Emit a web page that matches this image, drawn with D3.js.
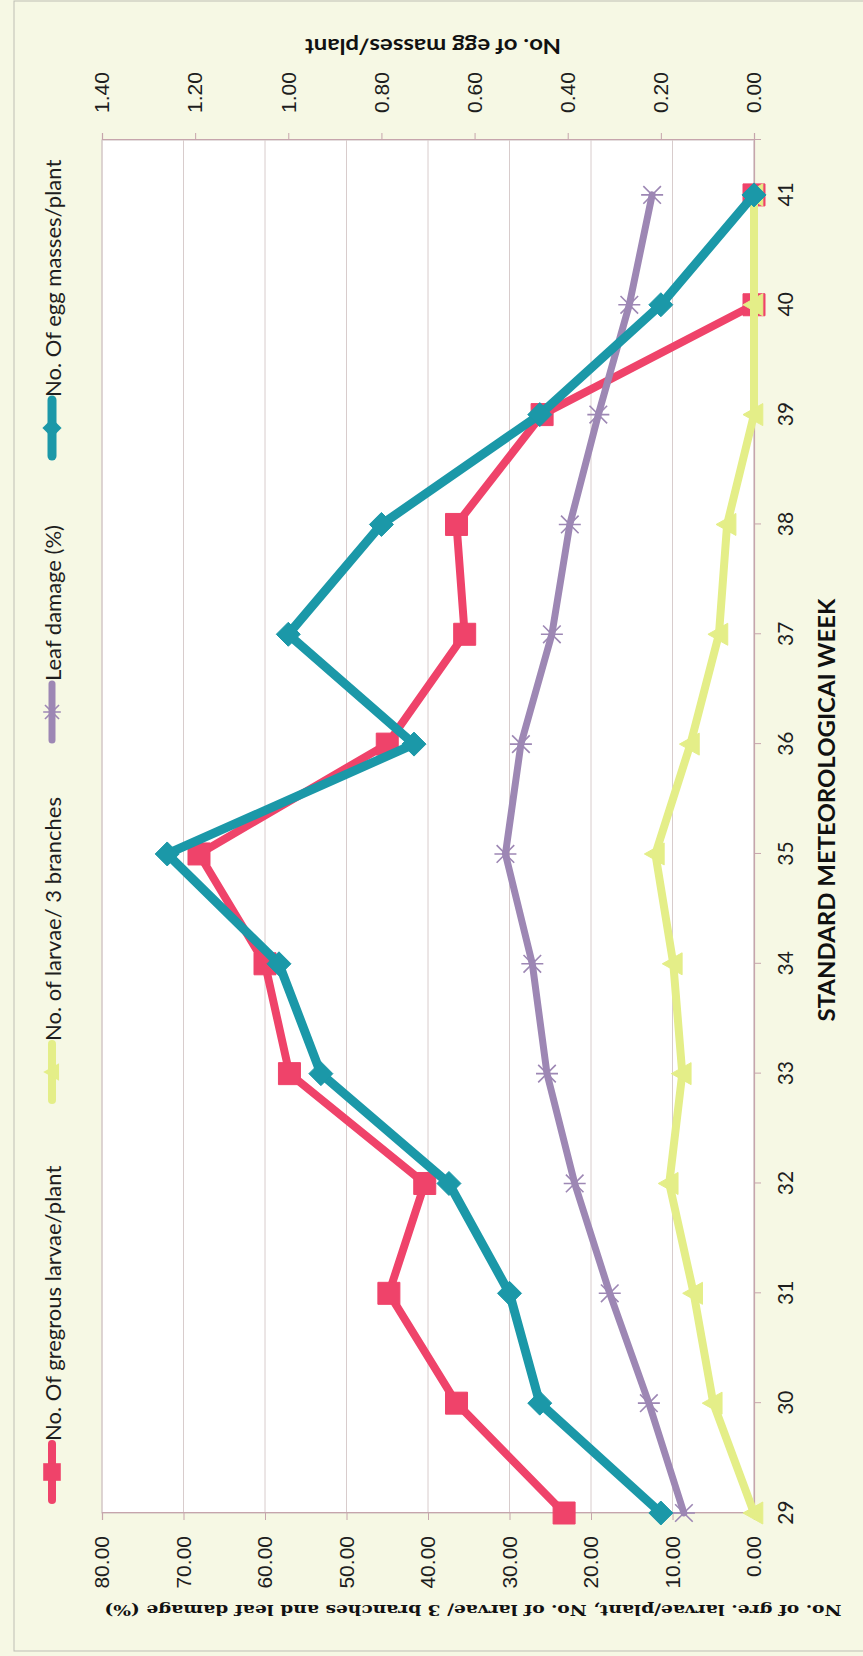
<!DOCTYPE html>
<html>
<head>
<meta charset="utf-8">
<script src="https://cdn.jsdelivr.net/npm/d3@7"></script>
<style>
  html, body { margin: 0; padding: 0; background: #f6f8e4; }
  svg { display: block; }
</style>
</head>
<body>
<svg id="chart" width="863" height="1656"></svg>
<script>
// Standard meteorological weeks
const weeks = [29, 30, 31, 32, 33, 34, 35, 36, 37, 38, 39, 40, 41];
// Primary axis series
const gregariousLarvae = [23.3, 36.5, 44.8, 40.4, 57.0, 60.0, 68.1, 45.0, 35.5, 36.5, 26.0, 0, 0];
const larvaePer3Branches = [0, 5.0, 7.4, 10.4, 8.8, 9.9, 12.1, 7.8, 4.3, 3.3, 0, 0, 0];
const leafDamage = [8.6, 12.9, 17.7, 22.0, 25.4, 27.2, 30.5, 28.6, 24.8, 22.6, 19.1, 15.3, 12.5];
// Secondary axis series
const eggMasses = [0.20, 0.46, 0.525, 0.655, 0.93, 1.02, 1.26, 0.73, 1.00, 0.80, 0.46, 0.20, 0];

const leftTicks = [0, 10, 20, 30, 40, 50, 60, 70, 80];
const rightTicks = [0, 0.2, 0.4, 0.6, 0.8, 1.0, 1.2, 1.4];

const W = 863, H = 1656;
const svg = d3.select("#chart");

svg.append("rect").attr("x", 0).attr("y", 0).attr("width", W).attr("height", H)
  .attr("fill", "#f6f8e4");

// The chart is laid out landscape and turned a quarter turn counter-clockwise.
// Inside g: u runs along the weeks (page bottom -> top), v runs page left -> right.
const g = svg.append("g").attr("transform", `translate(0,${H}) rotate(-90)`);

// chart-area border
g.append("rect").attr("x", 5).attr("y", 14).attr("width", 1650).attr("height", 900)
  .attr("fill", "none").attr("stroke", "#bdbdb4").attr("stroke-width", 1);

const plot = { u0: 143, u1: 1516, v0: 102, v1: 754 };

const x = d3.scaleLinear().domain([29, 41.5]).range([plot.u0, plot.u1]);
const yL = d3.scaleLinear().domain([0, 80]).range([plot.v1, plot.v0]);
const yR = d3.scaleLinear().domain([0, 1.4]).range([plot.v1, plot.v0]);

// plot area
g.append("rect").attr("x", plot.u0).attr("y", plot.v0)
  .attr("width", plot.u1 - plot.u0).attr("height", plot.v1 - plot.v0)
  .attr("fill", "#ffffff").attr("stroke", "#c9bcbc").attr("stroke-width", 1);

// gridlines
g.append("g").selectAll("line").data(leftTicks).join("line")
  .attr("x1", plot.u0).attr("x2", plot.u1)
  .attr("y1", d => yL(d)).attr("y2", d => yL(d))
  .attr("stroke", "#d8cccc").attr("stroke-width", 1);

const fmt = d3.format(".2f");

// primary value axis
const axL = g.append("g").attr("transform", `translate(${plot.u0},0)`)
  .call(d3.axisLeft(yL).tickValues(leftTicks).tickFormat(fmt).tickSize(7).tickPadding(16));
// secondary value axis
const axR = g.append("g").attr("transform", `translate(${plot.u1},0)`)
  .call(d3.axisRight(yR).tickValues(rightTicks).tickFormat(fmt).tickSize(7).tickPadding(20));
// week axis
const axB = g.append("g").attr("transform", `translate(0,${plot.v1})`)
  .call(d3.axisBottom(x).tickValues(weeks).tickFormat(d3.format("d")).tickSize(7).tickPadding(17));

[axL, axR, axB].forEach(a => {
  a.selectAll(".domain").attr("stroke", "#c6a5ac").attr("stroke-width", 1.2);
  a.selectAll(".tick line").attr("stroke", "#c6a5ac");
});
[axL, axR].forEach(a => a.selectAll("text")
  .attr("font-family", "'Liberation Sans', Arial, sans-serif")
  .attr("font-size", 21).attr("fill", "#1e1e1e"));
axB.selectAll("text").attr("font-family", "Lato, 'Open Sans', sans-serif")
  .attr("font-size", 21).attr("fill", "#1e1e1e");

// axis titles
g.append("text").attr("transform", `translate(846,826)`)
  .attr("text-anchor", "middle").attr("dominant-baseline", "central")
  .attr("font-family", "Lato, sans-serif").attr("font-weight", "bold").attr("font-size", 22)
  .attr("textLength", 423).attr("lengthAdjust", "spacingAndGlyphs")
  .attr("fill", "#111").text("STANDARD METEOROLOGICAI  WEEK");

g.append("text").attr("transform", `translate(46,473) rotate(-90)`)
  .attr("text-anchor", "middle").attr("dominant-baseline", "central")
  .attr("font-family", "'DejaVu Serif', serif").attr("font-weight", "bold").attr("font-size", 15.5)
  .attr("textLength", 737).attr("lengthAdjust", "spacingAndGlyphs")
  .attr("fill", "#111").text("No. of gre. larvae/plant, No. of larvae/ 3 branches and leaf damage (%)");

g.append("text").attr("transform", `translate(1609,433) rotate(-90)`)
  .attr("text-anchor", "middle").attr("dominant-baseline", "central")
  .attr("font-family", "Lato, sans-serif").attr("font-weight", "bold").attr("font-size", 21)
  .attr("textLength", 256).attr("lengthAdjust", "spacingAndGlyphs")
  .attr("fill", "#111").text("No. of egg masses/plant");

// marker shapes
const markers = {
  square: s => `M${-s},${-s}H${s}V${s}H${-s}Z`,
  diamond: s => `M0,${-s}L${s},0L0,${s}L${-s},0Z`,
  triangle: s => `M0,${-s}L${s},${s * 0.8}L${-s},${s * 0.8}Z`,
  star: s => `M${-s * 0.8},${-s * 0.8}L${s * 0.8},${s * 0.8}M${-s * 0.8},${s * 0.8}L${s * 0.8},${-s * 0.8}M0,${-s}L0,${s}`
};

const series = [
  { name: "No. Of gregrous larvae/plant", values: gregariousLarvae, scale: yL, color: "#ef436a", width: 8, marker: "square", size: 11, legendAt: 184 },
  { name: "No. of larvae/ 3 branches", values: larvaePer3Branches, scale: yL, color: "#e4ee88", width: 8, marker: "triangle", size: 11, legendAt: 584 },
  { name: "Leaf damage (%)", values: leafDamage, scale: yL, color: "#9d87b4", width: 7, marker: "star", size: 11, legendAt: 944 },
  { name: "No. Of egg masses/plant", values: eggMasses, scale: yR, color: "#1b98a8", width: 9, marker: "diamond", size: 12, legendAt: 1228 }
];

series.forEach(s => {
  const pts = weeks.map((w, i) => [x(w), s.scale(s.values[i])]);
  const sg = g.append("g");
  sg.append("path").attr("d", d3.line()(pts))
    .attr("fill", "none").attr("stroke", s.color).attr("stroke-width", s.width)
    .attr("stroke-linejoin", "round").attr("stroke-linecap", "round");
  const m = sg.selectAll("path.m").data(pts).join("path").attr("class", "m")
    .attr("transform", d => `translate(${d[0]},${d[1]})`)
    .attr("d", markers[s.marker](s.size));
  if (s.marker === "star") {
    m.attr("fill", "none").attr("stroke", s.color).attr("stroke-width", 1.6);
  } else {
    m.attr("fill", s.color).attr("stroke", s.color).attr("stroke-width", 1);
  }
});

// legend
const legendV = 52;
series.forEach(s => {
  const lg = g.append("g");
  lg.append("line").attr("x1", s.legendAt - 28).attr("x2", s.legendAt + 28)
    .attr("y1", legendV).attr("y2", legendV)
    .attr("stroke", s.color).attr("stroke-width", s.width).attr("stroke-linecap", "round");
  const mk = lg.append("path").attr("transform", `translate(${s.legendAt},${legendV})`)
    .attr("d", markers[s.marker](s.size * 0.8));
  if (s.marker === "star") mk.attr("fill", "none").attr("stroke", s.color).attr("stroke-width", 1.6);
  else mk.attr("fill", s.color);
  lg.append("text").attr("x", s.legendAt + 31).attr("y", legendV)
    .attr("dominant-baseline", "central")
    .attr("font-family", "Lato, 'Open Sans', sans-serif").attr("font-size", 22)
    .attr("fill", "#1e1e1e").text(s.name);
});
</script>
</body>
</html>
